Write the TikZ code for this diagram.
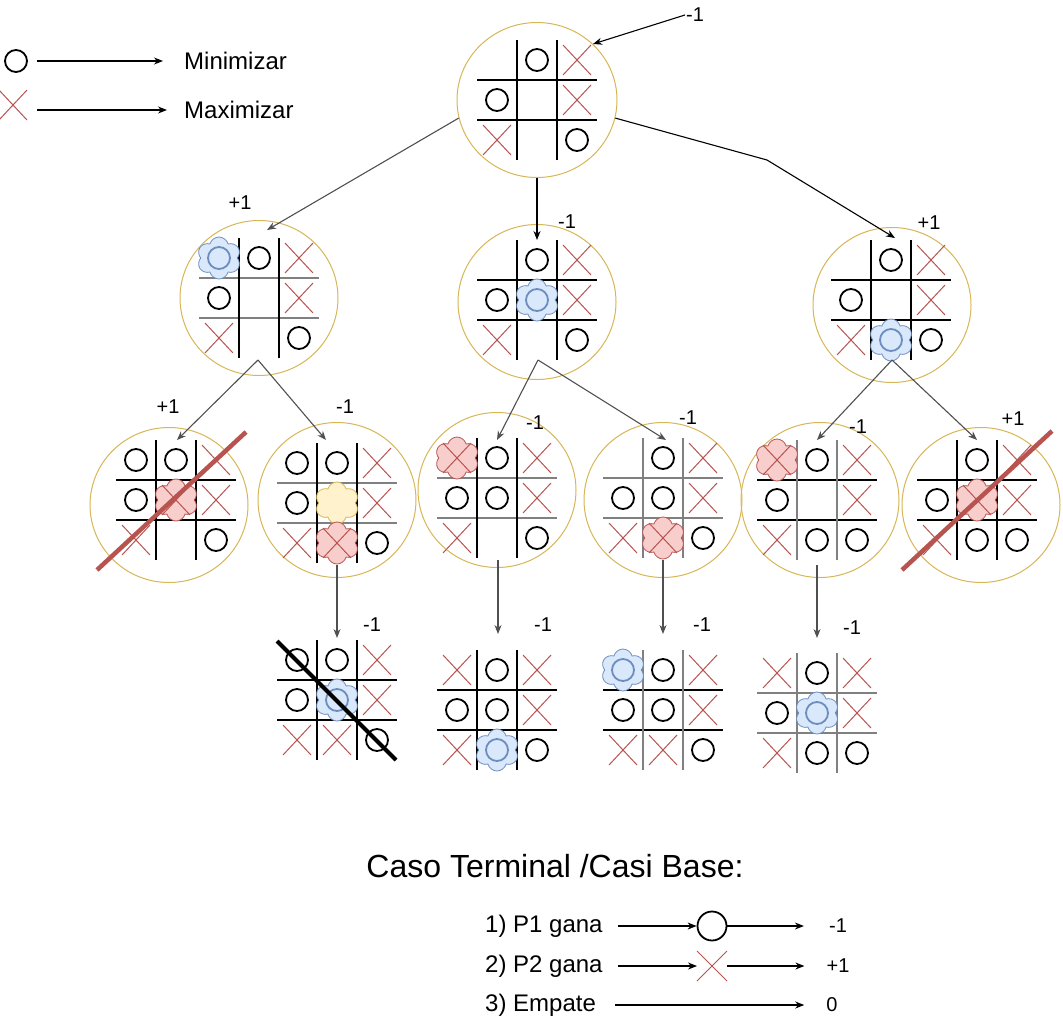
\documentclass[tikz,border=0pt]{standalone}
\usepackage{fontspec}
\setmainfont{Liberation Sans}
\usepackage{tikz}
\usetikzlibrary{arrows.meta,shapes.geometric,shapes.symbols,calc}
\definecolor{borde}{HTML}{D6B656}
\definecolor{rojo}{HTML}{B85450}
\definecolor{rosa}{HTML}{F8CECC}
\definecolor{azul}{HTML}{6C8EBF}
\definecolor{celeste}{HTML}{DAE8FC}
\definecolor{amarillo}{HTML}{FFF2CC}
\definecolor{gris}{HTML}{808080}
\definecolor{conector}{HTML}{505050}
\tikzset{
    estado/.style = {draw=borde, ellipse, line width=1pt,
        minimum width=158pt, minimum height=155pt, inner sep=0pt},
    linea/.style = {line width=1.2pt},
    lineag/.style = {line width=2.6pt, gris},
    marcao/.style = {line width=1.8pt},
    marcax/.style = {line width=1pt, rojo},
    nube/.style = {cloud, cloud puffs=6, aspect=1, line width=0.8pt,
        minimum width=44pt, minimum height=42pt, inner sep=0pt},
    flecha/.style = {draw, line width=1.1pt, -{Stealth[length=9pt,width=7pt]}},
    conec/.style = {flecha, conector},
    valor/.style = {font=\fontsize{20}{24}\selectfont, inner sep=1pt},
    texto/.style = {font=\fontsize{24}{28}\selectfont, inner sep=0pt},
    tachar/.style = {line width=4.5pt}
}
% fichas: columna, fila
\newcommand{\fichao}[2]{\draw[marcao] ({(#1-1)*40},{(#2-1)*40}) circle[radius=11];}
\newcommand{\fichax}[2]{\draw[marcax] ({(#1-1)*40},{(#2-1)*40}) +(-14,-15) -- +(14,15) +(-14,15) -- +(14,-15);}
\newcommand{\fichaob}[2]{\node[nube, fill=celeste, draw=azul] at ({(#1-1)*40},{(#2-1)*40}) {};
    \draw[marcao, azul] ({(#1-1)*40},{(#2-1)*40}) circle[radius=11];}
\newcommand{\fichaxr}[2]{\node[nube, fill=rosa, draw=rojo] at ({(#1-1)*40},{(#2-1)*40}) {};
    \fichax{#1}{#2}}
\newcommand{\fichay}[2]{\node[nube, fill=amarillo, draw=borde] at ({(#1-1)*40},{(#2-1)*40}) {};}
% tablero: centro, lineas horizontales, lineas verticales, fichas
\newcommand{\tablero}[4]{%
    \begin{scope}[shift={(#1)}]
        \draw[#2] (-60,-20) -- (60,-20) (-60,20) -- (60,20);
        \draw[#3] (-20,-60) -- (-20,60) (20,-60) -- (20,60);
        \foreach \t/\r/\c in {#4} {\csname ficha\t\endcsname{\c}{\r}}
    \end{scope}}

\begin{document}
\begin{tikzpicture}[x=1pt, y=-1pt]
    \useasboundingbox (0,0) rectangle (1063,1021);
    % leyenda
    \draw[marcao] (16,61) circle[radius=11];
    \node[coordinate] (lo) at (16,61) {};
    \node[texto, anchor=west] (tmin) at (184,61) {Minimizar};
    \draw[flecha] ([xshift=21pt]lo) -- ([xshift=-21pt]tmin.west);
    \node[coordinate] (lx) at (13,105) {};
    \draw[marcax] (lx) +(-14,-15) -- +(14,15) +(-14,15) -- +(14,-15);
    \node[texto, anchor=west] (tmax) at (184,110) {Maximizar};
    \draw[flecha] ([xshift=-147pt]tmax.west) -- ([xshift=-17pt]tmax.west);

    % estados
    \node[estado, minimum width=160pt] (n0) at (537,100) {};
    \node[estado] (n1) at (259,298) {};
    \node[estado] (n2) at (537,302) {};
    \node[estado] (n3) at (892,305) {};
    \node[estado] (n4) at (169,505) {};
    \node[estado] (n5) at (337,500) {};
    \node[estado] (n6) at (497,490) {};
    \node[estado] (n7) at (663,500) {};
    \node[estado] (n8) at (820,500) {};
    \node[estado] (n9) at (981,505) {};

    \tablero{537,100}{linea}{linea}{o/0/1, x/0/2, o/1/0, x/1/2, x/2/0, o/2/2}
    \tablero{259,298}{lineag}{linea}{ob/0/0, o/0/1, x/0/2, o/1/0, x/1/2, x/2/0, o/2/2}
    \tablero{537,300}{linea}{linea}{o/0/1, x/0/2, o/1/0, ob/1/1, x/1/2, x/2/0, o/2/2}
    \tablero{891,300}{linea}{linea}{o/0/1, x/0/2, o/1/0, x/1/2, x/2/0, ob/2/1, o/2/2}
    \tablero{176,500}{linea}{linea}{o/0/0, o/0/1, x/0/2, o/1/0, xr/1/1, x/1/2, x/2/0, o/2/2}
    \tablero{337,503}{lineag}{linea}{o/0/0, o/0/1, x/0/2, o/1/0, y/1/1, x/1/2, x/2/0, xr/2/1, o/2/2}
    \tablero{497,498}{lineag}{linea}{xr/0/0, o/0/1, x/0/2, o/1/0, o/1/1, x/1/2, x/2/0, o/2/2}
    \tablero{663,498}{lineag}{lineag}{o/0/1, x/0/2, o/1/0, o/1/1, x/1/2, x/2/0, xr/2/1, o/2/2}
    \tablero{817,500}{linea}{lineag}{xr/0/0, o/0/1, x/0/2, o/1/0, x/1/2, x/2/0, o/2/1, o/2/2}
    \tablero{977,500}{linea}{linea}{o/0/1, x/0/2, o/1/0, xr/1/1, x/1/2, x/2/0, o/2/1, o/2/2}
    \tablero{337,700}{linea}{linea}{o/0/0, o/0/1, x/0/2, o/1/0, ob/1/1, x/1/2, x/2/0, x/2/1, o/2/2}
    \tablero{497,710}{linea}{linea}{x/0/0, o/0/1, x/0/2, o/1/0, o/1/1, x/1/2, x/2/0, ob/2/1, o/2/2}
    \tablero{663,710}{linea}{lineag}{ob/0/0, o/0/1, x/0/2, o/1/0, o/1/1, x/1/2, x/2/0, x/2/1, o/2/2}
    \tablero{817,713}{lineag}{lineag}{x/0/0, o/0/1, x/0/2, o/1/0, ob/1/1, x/1/2, x/2/0, o/2/1, o/2/2}

    % jugadas tachadas
    \draw[tachar, rojo] (97,570) -- (246,432);
    \draw[tachar, rojo] (902,570) -- (1052,431);
    \draw[line width=4pt] (277,641) -- (396,760);

    % valores
    \node[valor] (l0) at (695,15) {-1};
    \node[valor] (l1) at (240,203) {+1};
    \node[valor] (l2) at (567,222) {-1};
    \node[valor] (l3) at (929,223) {+1};
    \node[valor] (l4) at (168,407) {+1};
    \node[valor] (l5) at (345,407) {-1};
    \node[valor] (l6) at (535,423) {-1};
    \node[valor] (l7) at (688,418) {-1};
    \node[valor] (l8) at (858,427) {-1};
    \node[valor] (l9) at (1013,419) {+1};
    \node[valor] (l10) at (372,625) {-1};
    \node[valor] (l11) at (543,625) {-1};
    \node[valor] (l12) at (702,625) {-1};
    \node[valor] (l13) at (852,628) {-1};

    % conectores
    \coordinate (e1) at (267,230);
    \coordinate (e2) at (537,240);
    \coordinate (b3) at (767,160);
    \coordinate (e3) at (895,238);
    \coordinate (p1) at (258,360);
    \coordinate (p2) at (538,360);
    \coordinate (p3) at (892,360);
    \coordinate (e4) at (177,440);
    \coordinate (e5) at (326,440);
    \coordinate (e6) at (497,440);
    \coordinate (e7) at (666,440);
    \coordinate (e8) at (817,440);
    \coordinate (e9) at (977,440);
    \coordinate (q5) at (337,565);
    \coordinate (q6) at (498,560);
    \coordinate (q7) at (663,560);
    \coordinate (q8) at (817,565);
    \draw[flecha] (l0.west) -- (n0.45);
    \draw[conec] (n0.193) -- (e1);
    \draw[flecha] (n0.south) -- (e2);
    \draw[flecha] (n0.-13) -- (b3) -- (e3);
    \draw[conec] (p1) -- (e4);
    \draw[conec] (p1) -- (e5);
    \draw[conec] (p2) -- (e6);
    \draw[conec] (p2) -- (e7);
    \draw[conec] (p3) -- (e8);
    \draw[conec] (p3) -- (e9);
    \draw[conec] (q5) -- ([yshift=-73pt]q5);
    \draw[conec] (q6) -- ([yshift=-74pt]q6);
    \draw[conec] (q7) -- ([yshift=-74pt]q7);
    \draw[conec] (q8) -- ([yshift=-73pt]q8);

    % caso terminal
    \node[font=\fontsize{32}{38}\selectfont, inner sep=0pt] (tit) at (555,866) {Caso Terminal /Casi Base:};
    \node[texto, anchor=west] (c1) at (485,926) {1) P1 gana};
    \node[draw, circle, marcao, minimum size=29pt, inner sep=0pt] (co) at (712,926) {};
    \node[valor] (v1) at (838,926) {-1};
    \draw[flecha] ([xshift=15pt]c1.east) -- (co.west);
    \draw[flecha] (co.east) -- ([xshift=-24pt]v1.west);
    \node[texto, anchor=west] (c2) at (485,966) {2) P2 gana};
    \node[coordinate] (cx) at (712,966) {};
    \draw[marcax] (cx) +(-15,-15) -- +(15,15) +(-15,15) -- +(15,-15);
    \node[valor] (v2) at (838,966) {+1};
    \draw[flecha] ([xshift=15pt]c2.east) -- ([xshift=-15pt]cx);
    \draw[flecha] ([xshift=15pt]cx) -- ([xshift=-21pt]v2.west);
    \node[texto, anchor=west] (c3) at (485,1005) {3) Empate};
    \node[valor] (v3) at (832,1005) {0};
    \draw[flecha] ([xshift=19pt]c3.east) -- ([xshift=-21pt]v3.west);
\end{tikzpicture}
\end{document}
